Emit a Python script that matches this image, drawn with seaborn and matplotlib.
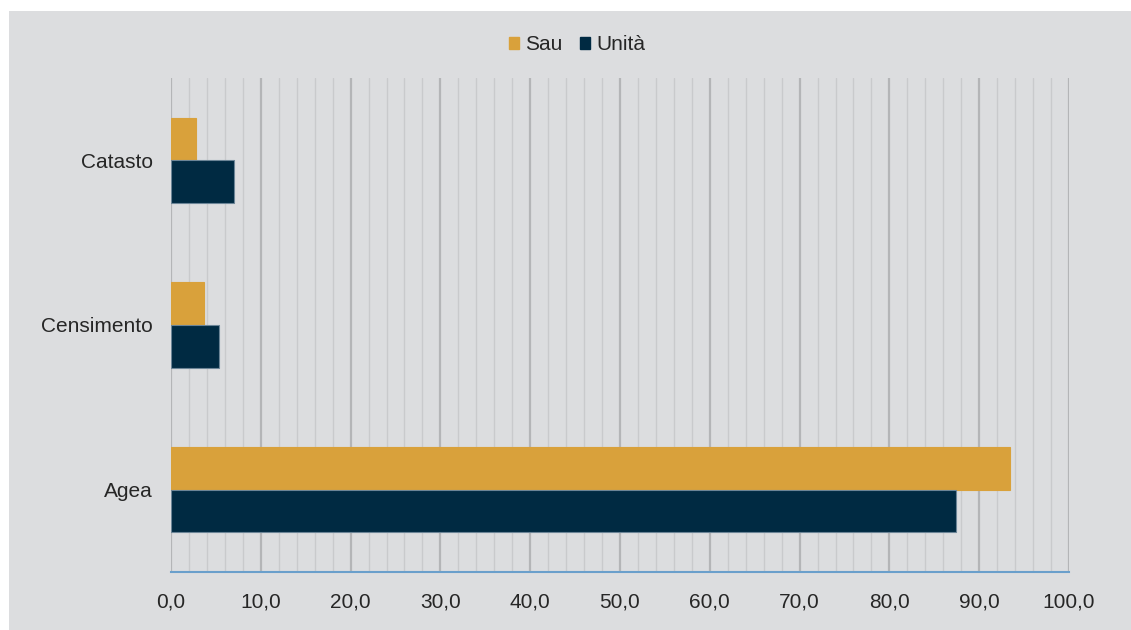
import matplotlib
matplotlib.use("Agg")
import matplotlib.pyplot as plt
import matplotlib.patches as mpatches
from matplotlib.ticker import MultipleLocator, FuncFormatter
import seaborn as sns
import pandas as pd

categories = ["Catasto", "Censimento", "Agea"]
series = ["Sau", "Unità"]
sau = [2.8, 3.7, 93.4]
unita = [7.0, 5.3, 87.4]
colors = {"Sau": "#D9A13B", "Unità": "#002A42"}
edges = {"Sau": "#D9A13B", "Unità": "#6C8597"}
bg = "#DCDDDF"

df = pd.DataFrame({
    "cat": categories * 2,
    "serie": ["Sau"] * 3 + ["Unità"] * 3,
    "val": sau + unita,
})

sns.set_style("white")
plt.rcParams["font.family"] = ["Liberation Sans", "DejaVu Sans"]

fig = plt.figure(figsize=(11.31, 6.30), dpi=100)
fig.patch.set_facecolor("white")
fig.patches.append(mpatches.Rectangle((9 / 1131, 0), 1 - 9 / 1131, 1 - 11 / 630,
                                      transform=fig.transFigure, facecolor=bg,
                                      edgecolor="none", zorder=-10))

ax = fig.add_axes([171 / 1131, 1 - 572 / 630, (1069 - 171) / 1131, (572 - 78) / 630])
ax.set_facecolor(bg)

sns.barplot(data=df, y="cat", x="val", hue="serie", order=categories,
            hue_order=series, palette=colors, orient="h", width=0.52,
            ax=ax, saturation=1, legend=False, zorder=3)

for container, s in zip(ax.containers, series):
    for p in container:
        p.set_edgecolor(edges[s])
        p.set_linewidth(0.8)

ax.set_xlim(0, 100)
ax.set_ylim(2.5, -0.5)
ax.xaxis.set_major_locator(MultipleLocator(10))
ax.xaxis.set_minor_locator(MultipleLocator(2))
ax.xaxis.set_major_formatter(FuncFormatter(lambda v, p: f"{v:.1f}".replace(".", ",")))
ax.grid(axis="x", which="major", color="#B4B5B7", linewidth=1.6, zorder=0)
ax.grid(axis="x", which="minor", color="#C9CACC", linewidth=1.0, zorder=0)
ax.grid(axis="y", visible=False)
ax.set_axisbelow(True)

for s in ["top", "right", "left"]:
    ax.spines[s].set_visible(False)
ax.spines["bottom"].set_color("#6A9FCB")
ax.spines["bottom"].set_linewidth(1.5)

ax.tick_params(axis="both", which="both", length=0, labelsize=15, colors="#262626")
ax.tick_params(axis="x", pad=15)
ax.tick_params(axis="y", pad=13)
ax.set_xlabel("")
ax.set_ylabel("")

handles = [mpatches.Patch(color=colors[s], label=s) for s in series]
fig.legend(handles=handles, loc="center", bbox_to_anchor=(577 / 1131, 1 - 45 / 630),
           ncol=2, frameon=False, fontsize=15, handlelength=0.5, handleheight=0.5,
           handletextpad=0.3, columnspacing=0.8, labelcolor="#262626")

fig.savefig("out.png", dpi=100, facecolor=fig.get_facecolor())
